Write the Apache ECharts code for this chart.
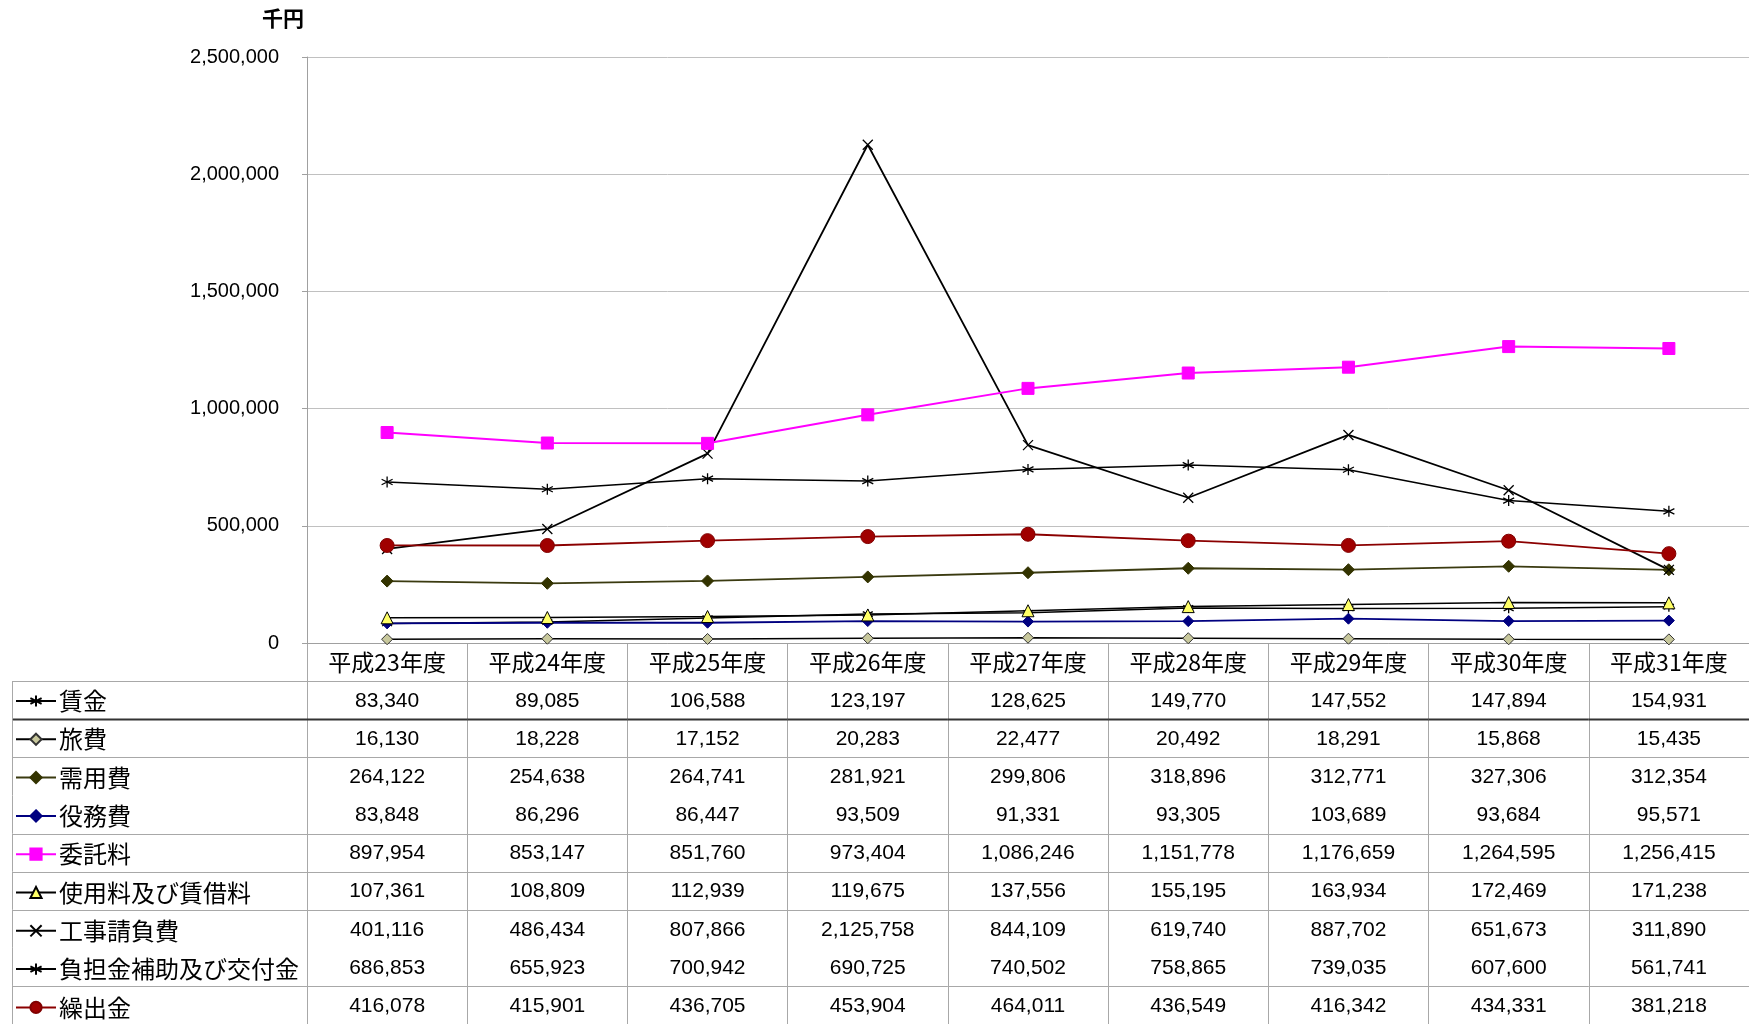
<!DOCTYPE html>
<html><head><meta charset="utf-8">
<script src="https://cdn.jsdelivr.net/npm/echarts@6/dist/echarts.min.js"></script>
<style>html,body{margin:0;padding:0;background:#fff}#c{width:1749px;height:1024px}</style>
</head><body><div id="c"></div>
<script>
// ---- data ----
const categories = ['平成23年度','平成24年度','平成25年度','平成26年度','平成27年度','平成28年度','平成29年度','平成30年度','平成31年度'];
const yTicks = [0, 500000, 1000000, 1500000, 2000000, 2500000];
const unitLabel = '千円';
const seriesNames = ['賃金','旅費','需用費','役務費','委託料','使用料及び賃借料','工事請負費','負担金補助及び交付金','繰出金'];
const chingin   = [83340, 89085, 106588, 123197, 128625, 149770, 147552, 147894, 154931];
const ryohi     = [16130, 18228, 17152, 20283, 22477, 20492, 18291, 15868, 15435];
const juyohi    = [264122, 254638, 264741, 281921, 299806, 318896, 312771, 327306, 312354];
const ekimuhi   = [83848, 86296, 86447, 93509, 91331, 93305, 103689, 93684, 95571];
const itakuryo  = [897954, 853147, 851760, 973404, 1086246, 1151778, 1176659, 1264595, 1256415];
const shiyoryo  = [107361, 108809, 112939, 119675, 137556, 155195, 163934, 172469, 171238];
const kojihi    = [401116, 486434, 807866, 2125758, 844109, 619740, 887702, 651673, 311890];
const futankin  = [686853, 655923, 700942, 690725, 740502, 758865, 739035, 607600, 561741];
const kuridashi = [416078, 415901, 436705, 453904, 464011, 436549, 416342, 434331, 381218];
const seriesValues = [chingin, ryohi, juyohi, ekimuhi, itakuryo, shiyoryo, kojihi, futankin, kuridashi];

// ---- styles ----
const FONT = "'Noto Sans CJK JP', 'Noto Sans', sans-serif";
const NUMFONT = "'Liberation Sans', 'Noto Sans CJK JP', sans-serif";
const STAR = 'path://M5,0 L5,10 M0.7,2.5 L9.3,7.5 M9.3,2.5 L0.7,7.5';
const XMARK = 'path://M0,0 L10,10 M10,0 L0,10';
const styles = [
  {line:'#000', sym:STAR, size:10, fill:'#000', border:'#000', bw:1.3, lw:1.5},
  {line:'#000', sym:'diamond', size:11, fill:'#c8c89c', border:'#333', bw:1, lw:1.5},
  {line:'#3a3a10', sym:'diamond', size:12, fill:'#333300', border:'#333300', bw:1, lw:1.8},
  {line:'#000080', sym:'diamond', size:11, fill:'#000080', border:'#000080', bw:1, lw:1.8},
  {line:'#ff00ff', sym:'rect', size:12, fill:'#ff00ff', border:'#ff00ff', bw:1, lw:2},
  {line:'#000', sym:'triangle', size:12, fill:'#ffff66', border:'#000', bw:1, lw:1.5},
  {line:'#000', sym:XMARK, size:10, fill:'#000', border:'#000', bw:1.3, lw:1.8},
  {line:'#000', sym:STAR, size:11, fill:'#000', border:'#000', bw:1.3, lw:1.5},
  {line:'#8b0000', sym:'circle', size:14, fill:'#a00000', border:'#800000', bw:1, lw:1.8}
];
// bottom border of each table row (row 0 = header)
const rowBorder = ['thin','thick','thin','none','thin','thin','thin','none','thin','thin'];
const THIN = '#a8a8a8';

const fmt = v => v.toLocaleString('en-US');
const tableRows = ['header'].concat(seriesNames);

const lineSeries = seriesNames.map((name, i) => ({
  name, type: 'line', xAxisIndex: 0, yAxisIndex: 0,
  data: seriesValues[i],
  symbol: styles[i].sym, symbolSize: styles[i].size,
  lineStyle: {color: styles[i].line, width: styles[i].lw},
  itemStyle: {color: styles[i].fill, borderColor: styles[i].border, borderWidth: styles[i].bw},
  emphasis: {disabled: true}, animation: false, z: 3 + (i === 4 ? 1 : 0)
}));

const cellData = [];
seriesValues.forEach((arr, s) => arr.forEach((v, c) => cellData.push([c, s + 1, v])));
const headerCells = categories.map((_, c) => [c, 0, null]);

function borderLine(x1, x2, y, kind) {
  if (kind === 'none') return null;
  return {type: 'line', shape: {x1, y1: y, x2, y2: y},
    style: {stroke: kind === 'thick' ? '#333' : THIN, lineWidth: kind === 'thick' ? 2 : 1}};
}

const tableSeries = {
  type: 'custom', xAxisIndex: 1, yAxisIndex: 1, animation: false, silent: true,
  data: headerCells.concat(cellData),
  renderItem(params, api) {
    const c = api.value(0), r = api.value(1);
    const p = api.coord([c, r]); const sz = api.size([1, 1]);
    const children = [];
    const b = borderLine(p[0] - sz[0] / 2, p[0] + sz[0] / 2, Math.round(p[1] + sz[1] / 2) + 0.5, rowBorder[r]);
    if (b) children.push(b);
    if (r > 0) children.push({type: 'text', style: {text: fmt(api.value(2)), x: p[0], y: p[1] + 1,
      align: 'center', verticalAlign: 'middle', fill: '#000', font: '21px ' + NUMFONT}});
    return {type: 'group', children};
  }
};

const legendColSeries = {
  type: 'custom', xAxisIndex: 2, yAxisIndex: 2, animation: false, silent: true,
  data: tableRows.map((_, r) => [0, r]),
  renderItem(params, api) {
    const r = api.value(1);
    const p = api.coord([0, r]); const sz = api.size([1, 1]);
    const children = [];
    const b = borderLine(p[0] - sz[0] / 2, p[0] + sz[0] / 2, Math.round(p[1] + sz[1] / 2) + 0.5, rowBorder[r]);
    if (b) children.push(b);
    if (r > 0) {
      const x = Math.round(p[0] - sz[0] / 2) + 0.5;
      children.push({type: 'line', shape: {x1: x, y1: p[1] - sz[1] / 2, x2: x, y2: p[1] + sz[1] / 2},
        style: {stroke: THIN, lineWidth: 1}});
    }
    return {type: 'group', children};
  }
};

const chart = echarts.init(document.getElementById('c'), null, {renderer: 'canvas'});
chart.setOption({
  animation: false,
  backgroundColor: '#fff',
  textStyle: {fontFamily: FONT},
  grid: [
    {left: 307, right: 0, top: 57, bottom: 381},
    {left: 307, right: 0, top: 643, height: 383},
    {left: 12, width: 295, top: 643, height: 383}
  ],
  legend: {
    data: seriesNames, orient: 'vertical', left: 15, top: 689, padding: 0,
    itemWidth: 40, itemHeight: 14, itemGap: 14.3, selectedMode: false,
    textStyle: {fontSize: 24, lineHeight: 24, color: '#000', fontFamily: FONT, padding: [0, 0, 0, -2]}
  },
  xAxis: [
    {gridIndex: 0, type: 'category', data: categories, boundaryGap: true,
     axisLine: {lineStyle: {color: '#a0a0a0'}}, axisTick: {show: false},
     axisLabel: {margin: 8, fontSize: 23, color: '#000', fontFamily: FONT, interval: 0},
     splitLine: {show: false}},
    {gridIndex: 1, type: 'category', data: categories, boundaryGap: true,
     axisLine: {show: false}, axisTick: {show: false}, axisLabel: {show: false},
     splitLine: {show: true, interval: 0, lineStyle: {color: THIN, width: 1}}},
    {gridIndex: 2, type: 'category', data: ['legend'], boundaryGap: true,
     axisLine: {show: false}, axisTick: {show: false}, axisLabel: {show: false}, splitLine: {show: false}}
  ],
  yAxis: [
    {gridIndex: 0, type: 'value', min: yTicks[0], max: yTicks[yTicks.length - 1], interval: yTicks[1] - yTicks[0],
     name: unitLabel, nameLocation: 'end', nameGap: 39,
     nameTextStyle: {fontSize: 21, color: '#000', fontFamily: FONT, align: 'right', verticalAlign: 'middle', padding: [0, 3, 0, 0], fontWeight: 'bold'},
     axisLine: {show: true, lineStyle: {color: '#a0a0a0'}},
     axisTick: {show: true, length: 5, lineStyle: {color: '#a0a0a0'}},
     axisLabel: {margin: 28, fontSize: 20, color: '#000', fontFamily: NUMFONT, formatter: v => fmt(v)},
     splitLine: {show: true, lineStyle: {color: '#c0c0c0', width: 1}}},
    {gridIndex: 1, type: 'category', data: tableRows, inverse: true,
     axisLine: {show: false}, axisTick: {show: false}, axisLabel: {show: false}, splitLine: {show: false}},
    {gridIndex: 2, type: 'category', data: tableRows, inverse: true,
     axisLine: {show: false}, axisTick: {show: false}, axisLabel: {show: false}, splitLine: {show: false}}
  ],
  series: lineSeries.concat([tableSeries, legendColSeries])
});
</script></body></html>
